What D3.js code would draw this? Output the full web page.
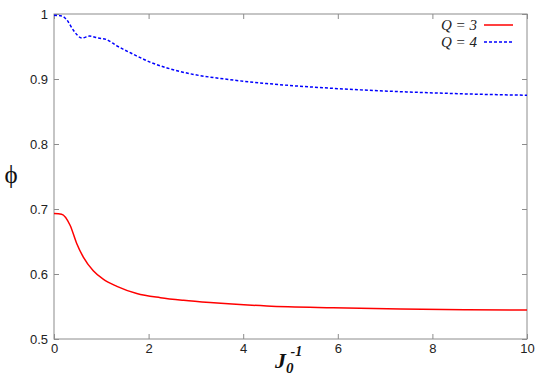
<!DOCTYPE html>
<html>
<head>
<meta charset="utf-8">
<script src="https://cdn.jsdelivr.net/npm/d3@7"></script>
<style>
  html, body { margin: 0; padding: 0; background: #fff; }
  svg { display: block; }
</style>
</head>
<body>
<div id="chart"></div>
<script>
// values
const q3X = [0, 0.16, 0.34, 0.48, 0.62, 0.83, 1.04, 1.33, 1.75, 2.25, 2.74, 3.3, 4.5, 5.9, 7.33, 8.74, 10];
const q3Y = [0.693, 0.692, 0.675, 0.647, 0.626, 0.605, 0.592, 0.581, 0.570, 0.5636, 0.5595, 0.556, 0.5508, 0.548, 0.546, 0.545, 0.5445];
const q4X = [0, 0.16, 0.27, 0.41, 0.59, 0.75, 0.94, 1.10, 1.33, 1.68, 2.03, 2.39, 2.95, 3.5, 4.5, 5.92, 7.33, 8.74, 10];
const q4Y = [0.998, 0.997, 0.991, 0.975, 0.963, 0.966, 0.963, 0.961, 0.951, 0.938, 0.926, 0.917, 0.907, 0.901, 0.893, 0.8855, 0.8805, 0.877, 0.875];
const xTicks = [0, 2, 4, 6, 8, 10];
const yTicks = [0.5, 0.6, 0.7, 0.8, 0.9, 1];

const width = 545, height = 382;
const margin = { top: 14, right: 18, bottom: 43, left: 54 };

const svg = d3.select('#chart').append('svg')
    .attr('width', width)
    .attr('height', height);

const x = d3.scaleLinear().domain([0, 10]).range([margin.left, width - margin.right]);
const y = d3.scaleLinear().domain([0.5, 1]).range([height - margin.bottom, margin.top]);

const axisColor = '#8c8c8c';
const font = 'Liberation Sans, Arial, sans-serif';
const serif = 'Liberation Serif, Times New Roman, serif';

// frame
svg.append('rect')
    .attr('x', x(0)).attr('y', y(1))
    .attr('width', x(10) - x(0)).attr('height', y(0.5) - y(1))
    .attr('fill', 'none').attr('stroke', axisColor).attr('stroke-width', 1);

function styleAxis(g) {
    g.select('.domain').remove();
    g.selectAll('.tick line').attr('stroke', axisColor);
    g.selectAll('.tick text').attr('fill', '#222').style('font-family', font).style('font-size', '13px');
}

svg.append('g')
    .attr('transform', `translate(0,${y(0.5)})`)
    .call(d3.axisBottom(x).tickValues(xTicks).tickSize(-5).tickPadding(5).tickFormat(d3.format('d')))
    .call(styleAxis);
svg.append('g')
    .attr('transform', `translate(0,${y(1)})`)
    .call(d3.axisTop(x).tickValues(xTicks).tickSize(-5).tickFormat(''))
    .call(styleAxis);
svg.append('g')
    .attr('transform', `translate(${x(0)},0)`)
    .call(d3.axisLeft(y).tickValues(yTicks).tickSize(-5).tickPadding(6).tickFormat(d => d === 1 ? '1' : d3.format('.1f')(d)))
    .call(styleAxis);
svg.append('g')
    .attr('transform', `translate(${x(10)},0)`)
    .call(d3.axisRight(y).tickValues(yTicks).tickSize(-5).tickFormat(''))
    .call(styleAxis);

const line = d3.line()
    .x(d => x(d[0]))
    .y(d => y(d[1]))
    .curve(d3.curveMonotoneX);

svg.append('path')
    .datum(q3X.map((v, i) => [v, q3Y[i]]))
    .attr('d', line)
    .attr('fill', 'none').attr('stroke', '#ff0000').attr('stroke-width', 1.5);

svg.append('path')
    .datum(q4X.map((v, i) => [v, q4Y[i]]))
    .attr('d', line)
    .attr('fill', 'none').attr('stroke', '#0000ff').attr('stroke-width', 1.5)
    .attr('stroke-dasharray', '3,2');

// legend
const legend = [
    { label: '3', color: '#ff0000', dash: null, y: 25 },
    { label: '4', color: '#0000ff', dash: '3,2', y: 42 }
];
legend.forEach(d => {
    svg.append('text')
        .attr('x', 477).attr('y', d.y + 5)
        .attr('text-anchor', 'end')
        .style('font-family', serif)
        .style('font-size', '15px')
        .style('font-style', 'italic')
        .attr('fill', '#222')
        .text(`Q = ${d.label}`);
    svg.append('line')
        .attr('x1', 484).attr('x2', 513)
        .attr('y1', d.y).attr('y2', d.y)
        .attr('stroke', d.color).attr('stroke-width', 1.5)
        .attr('stroke-dasharray', d.dash);
});

// axis titles
svg.append('text')
    .attr('x', 11).attr('y', 183)
    .attr('text-anchor', 'middle')
    .style('font-family', serif)
    .style('font-size', '25px')
    .attr('fill', '#111')
    .text('\u03d5');

const xl = svg.append('text')
    .attr('x', 275).attr('y', 368)
    .style('font-family', serif)
    .style('font-style', 'italic')
    .style('font-weight', 'bold')
    .attr('fill', '#111');
xl.append('tspan').style('font-size', '22px').text('J');
xl.append('tspan').style('font-size', '15px').attr('dy', 5).text('0');
xl.append('tspan').style('font-size', '14px').attr('dy', -17).attr('dx', -3).text('-1');
</script>
</body>
</html>
